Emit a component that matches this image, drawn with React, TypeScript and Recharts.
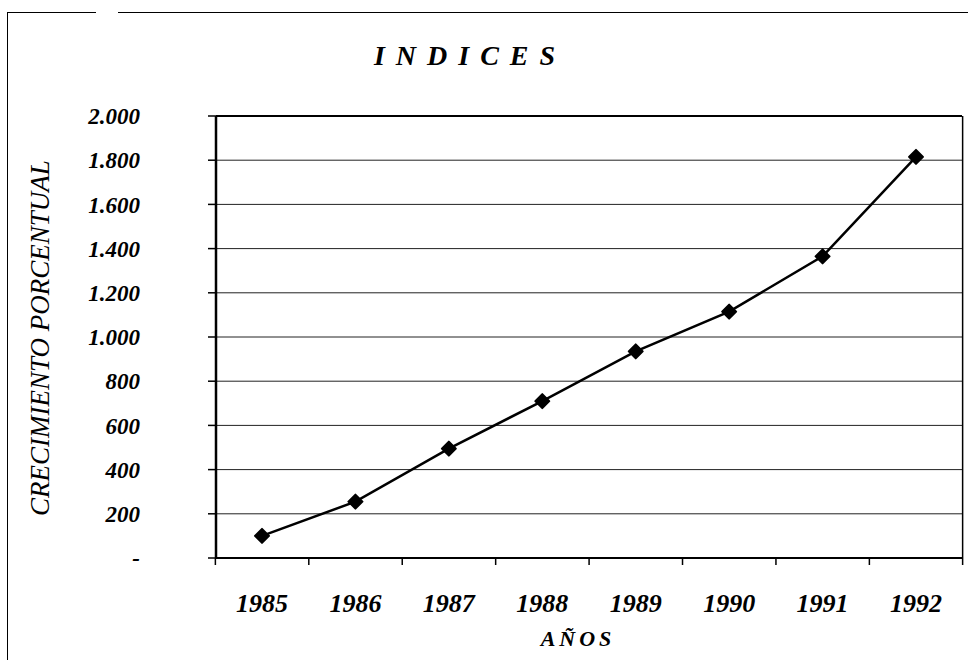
import { LineChart, Line, XAxis, YAxis, CartesianGrid, ReferenceLine, Label } from "recharts";

const years = ["1985", "1986", "1987", "1988", "1989", "1990", "1991", "1992"];
const indices = [100, 255, 495, 710, 935, 1115, 1365, 1815];
const yTicks = [0, 200, 400, 600, 800, 1000, 1200, 1400, 1600, 1800, 2000];
const yTickLabels = ["-", "200", "400", "600", "800", "1.000", "1.200", "1.400", "1.600", "1.800", "2.000"];

const data = years.map((year, i) => ({ year, indice: indices[i] }));

const serif = "'Liberation Serif', 'DejaVu Serif', serif";
const X_TICK_SIZE = 6;
const X_TICK_MARGIN = 30;

function Diamond(props: any) {
  const { cx, cy } = props;
  if (cx == null || cy == null) return null;
  const r = 7;
  return (
    <path
      d={`M${cx},${cy - r} L${cx + r},${cy} L${cx},${cy + r} L${cx - r},${cy} Z`}
      fill="#000"
      stroke="#000"
      strokeWidth={2}
      strokeLinejoin="round"
    />
  );
}

// year label at the category centre, tick marks on the boundaries between years
function YearTick(props: any) {
  const { x, y, payload, width, visibleTicksCount, index } = props;
  const half = width / visibleTicksCount / 2;
  const axisY = y - X_TICK_SIZE - X_TICK_MARGIN;
  const isLast = index === visibleTicksCount - 1;
  return (
    <g>
      <line x1={x - half} x2={x - half} y1={axisY} y2={axisY + 7} stroke="#000" strokeWidth={1.5} />
      {isLast && (
        <line x1={x + half} x2={x + half} y1={axisY - 442} y2={axisY + 7} stroke="#000" strokeWidth={1.5} />
      )}
      <text
        x={x}
        y={y}
        dy="0.71em"
        textAnchor="middle"
        fill="#000"
        fontFamily={serif}
        fontStyle="italic"
        fontWeight="bold"
        fontSize={26}
      >
        {payload.value}
      </text>
    </g>
  );
}

export default function App() {
  return (
    <div style={{ position: "absolute", left: 0, top: 0, width: 968, height: 660, overflow: "hidden", background: "#fff" }}>
      {/* scanned page frame */}
      <div style={{ position: "absolute", left: 8, top: 12, width: 88, height: 0, borderTop: "1.5px solid #000" }} />
      <div style={{ position: "absolute", left: 118, top: 12, width: 850, height: 0, borderTop: "1.5px solid #000" }} />
      <div style={{ position: "absolute", left: 7, top: 12, width: 0, height: 648, borderLeft: "1.5px solid #000" }} />

      <div
        style={{
          position: "absolute",
          left: 0,
          top: 40,
          width: 940,
          textAlign: "center",
          fontFamily: serif,
          fontStyle: "italic",
          fontWeight: "bold",
          fontSize: 28,
          letterSpacing: 11,
        }}
      >
        INDICES
      </div>

      <LineChart
        width={968}
        height={660}
        data={data}
        margin={{ top: 116, right: 6, bottom: 0, left: 0 }}
        style={{ position: "absolute", left: 0, top: 0 }}
      >
        <CartesianGrid stroke="#222" strokeWidth={1} vertical={false} />
        <XAxis
          dataKey="year"
          height={102}
          padding={{ left: 46, right: 46 }}
          tickLine={false}
          tickSize={X_TICK_SIZE}
          tickMargin={X_TICK_MARGIN}
          axisLine={{ stroke: "#000", strokeWidth: 2 }}
          tick={<YearTick />}
          label={
            <Label
              content={({ viewBox }: any) => (
                <text
                  x={viewBox.x + viewBox.width / 2 - 11}
                  y={646}
                  textAnchor="middle"
                  fontFamily={serif}
                  fontStyle="italic"
                  fontWeight="bold"
                  fontSize={22}
                  letterSpacing={4}
                  fill="#000"
                >
                  AÑOS
                </text>
              )}
            />
          }
        />
        <YAxis
          domain={[0, 2000]}
          ticks={yTicks}
          width={216}
          tickSize={8}
          tickMargin={68}
          tickLine={{ stroke: "#000", strokeWidth: 1.5 }}
          axisLine={{ stroke: "#000", strokeWidth: 2.5 }}
          tickFormatter={(v: number) => yTickLabels[yTicks.indexOf(v)]}
          tick={{ fill: "#000", fontFamily: serif, fontStyle: "italic", fontWeight: "bold", fontSize: 23 }}
          label={
            <Label
              content={() => (
                <text
                  x={40}
                  y={338}
                  transform="rotate(-90, 40, 338)"
                  textAnchor="middle"
                  dominantBaseline="central"
                  fontFamily={serif}
                  fontStyle="italic"
                  fontSize={27}
                  fill="#000"
                >
                  CRECIMIENTO PORCENTUAL
                </text>
              )}
            />
          }
        />
        <ReferenceLine y={2000} stroke="#000" strokeWidth={2} />
        <Line
          dataKey="indice"
          stroke="#000"
          strokeWidth={2.5}
          dot={<Diamond />}
          activeDot={false}
          isAnimationActive={false}
        />
      </LineChart>
    </div>
  );
}
